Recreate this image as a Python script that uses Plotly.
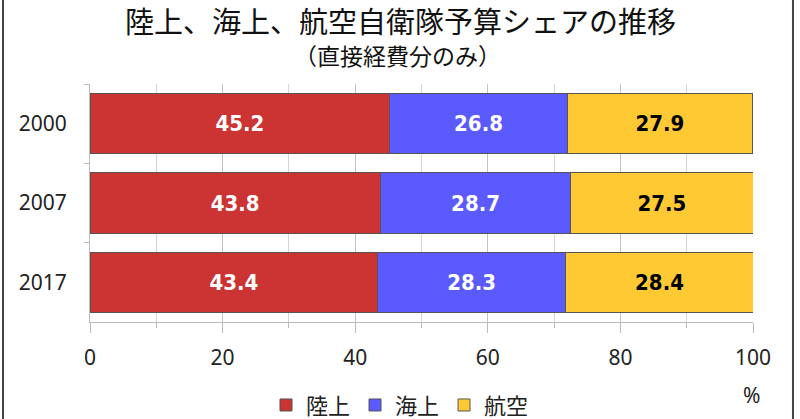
import plotly.graph_objects as go

years = ["2000", "2007", "2017"]
series_names = ["陸上", "海上", "航空"]
riku = [45.2, 43.8, 43.4]
kai = [26.8, 28.7, 28.3]
koku = [27.9, 27.5, 28.4]
colors = ["#CC3333", "#5A5AFF", "#FFC933"]
text_colors = ["white", "white", "black"]
x_ticks = [0, 20, 40, 60, 80, 100]

fig = go.Figure()
for name, vals, c, tc in zip(series_names, [riku, kai, koku], colors, text_colors):
    fig.add_trace(go.Bar(
        y=years, x=vals, name=name, orientation="h",
        marker=dict(color=c, line=dict(color="#555555", width=1)),
        text=[f"{v:.1f}" for v in vals], textposition="inside",
        insidetextanchor="middle",
        textfont=dict(family="DejaVu Sans Condensed, sans-serif", size=22, color=tc,
                      weight="bold"),
        hoverinfo="skip",
    ))

fig.update_layout(
    barmode="stack", bargap=0.24,
    width=800, height=419,
    margin=dict(l=90, r=47, t=84, b=97, autoexpand=False),
    paper_bgcolor="white", plot_bgcolor="white",
    font=dict(family="Noto Sans CJK JP, sans-serif", color="#222222"),
    showlegend=True,
    legend=dict(orientation="h", x=0.5, xanchor="center", xref="container",
                y=0.033, yanchor="middle", yref="container",
                font=dict(size=22, family="Noto Sans CJK JP"), itemwidth=30,
                traceorder="normal"),
    xaxis=dict(range=[0, 100], tickvals=x_ticks, showgrid=True, gridcolor="#C4C4C4",
               ticks="outside", ticklen=10, tickcolor="#BBBBBB",
               tickfont=dict(size=21, family="Noto Sans, sans-serif", color="#222"),
               minor=dict(dtick=10, showgrid=True, gridcolor="#D5D5D5", ticks="outside",
                          ticklen=5, tickcolor="#BBBBBB"),
               showline=True, linecolor="#BBBBBB", zeroline=False,
               ticklabelstandoff=7, fixedrange=True),
    yaxis=dict(autorange="reversed", tickson="boundaries", ticks="outside", ticklen=5,
               tickcolor="#BBBBBB", showline=True, linecolor="#BBBBBB",
               tickfont=dict(size=21, family="Noto Sans, sans-serif", color="#222"),
               ticklabelstandoff=18, showgrid=False, fixedrange=True),
)

fig.add_annotation(text="陸上、海上、航空自衛隊予算シェアの推移", xref="paper", yref="paper",
                   x=0.4676, y=1.0, yshift=64, yanchor="middle", showarrow=False,
                   font=dict(size=29, family="Noto Sans CJK JP", color="#111"))
fig.add_annotation(text="（直接経費分のみ）", xref="paper", yref="paper",
                   x=0.464, y=1.0, yshift=29, yanchor="middle", showarrow=False,
                   font=dict(size=23, family="Noto Sans CJK JP", color="#111"))
fig.add_annotation(text="%", xref="paper", yref="paper", x=1.0136, y=0, yshift=-73,
                   yanchor="middle", showarrow=False,
                   font=dict(size=21, family="Noto Sans", color="#222"))

for px in [-0.1312, 1.0603]:
    fig.add_shape(type="line", xref="paper", yref="paper", x0=px, x1=px, y0=-0.42, y1=1.36,
                  line=dict(color="#444444", width=2))

fig.write_html("out.html", config={"displayModeBar": False},
               post_script="document.body.style.margin='0px';")
